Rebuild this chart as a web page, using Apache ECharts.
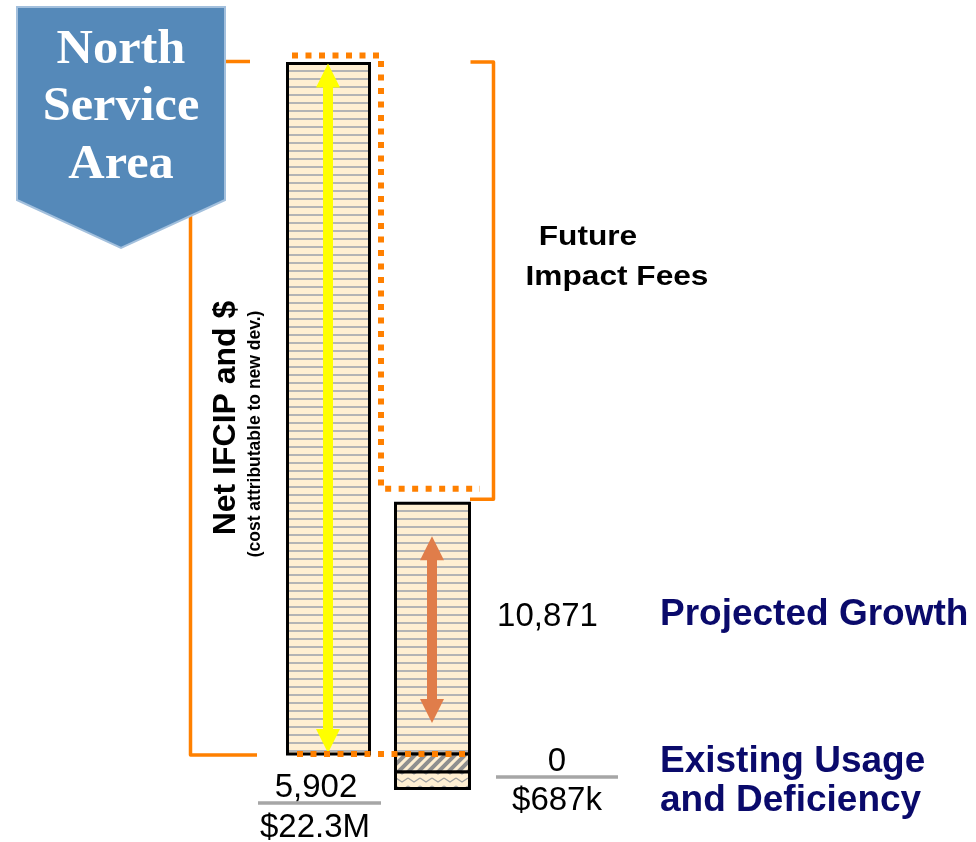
<!DOCTYPE html>
<html>
<head>
<meta charset="utf-8">
<script src="https://cdn.jsdelivr.net/npm/echarts@6/dist/echarts.min.js"></script>
<style>
html, body { margin: 0; padding: 0; background: #fff; }
#main { width: 976px; height: 842px; }
</style>
</head>
<body>
<div id="main"></div>
<script>
var chartDom = document.getElementById('main');
var myChart = echarts.init(chartDom);

var categories = ['Net IFCIP', 'Projected Growth'];
// bar heights in relative units (Net IFCIP bar = 100)
var growthHeights = [100, 36.3];
var existingHeights = [0, 2.6];
var deficiencyHeights = [0, 2.4];
var countLabels = ['5,902', '0'];
var dollarLabels = ['$22.3M', '$687k'];
var growthCount = '10,871';

var barWidths = [82, 74];
var arrowColors = ['#FFFF00', '#E07D4A'];
var arrowInsets = [[0, 1], [33, 31]];
var orange = '#FF8000';
var navy = '#0A0A6B';
var sans = '"Liberation Sans", Arial, sans-serif';

function makePattern(w, h, draw) {
    var c = document.createElement('canvas');
    c.width = w;
    c.height = h;
    var ctx = c.getContext('2d');
    ctx.fillStyle = '#FFEFD2';
    ctx.fillRect(0, 0, w, h);
    draw(ctx);
    return { image: c, repeat: 'repeat' };
}
var patterns = [
    makePattern(8, 8, function (ctx) {
        ctx.fillStyle = '#B4B4B4';
        ctx.fillRect(0, 6, 8, 2);
    }),
    makePattern(10, 10, function (ctx) {
        ctx.strokeStyle = '#8F8F8F';
        ctx.lineWidth = 4;
        ctx.beginPath();
        ctx.moveTo(-5, 5); ctx.lineTo(5, -5);
        ctx.moveTo(0, 10); ctx.lineTo(10, 0);
        ctx.moveTo(5, 15); ctx.lineTo(15, 5);
        ctx.stroke();
    }),
    makePattern(12, 8, function (ctx) {
        ctx.strokeStyle = '#A0A0A0';
        ctx.lineWidth = 1.2;
        ctx.beginPath();
        ctx.moveTo(0, 2); ctx.lineTo(6, 6); ctx.lineTo(12, 2);
        ctx.stroke();
    })
];

var segments = [];
categories.forEach(function (c, i) {
    segments.push([i, 0, growthHeights[i], 0]);
    if (existingHeights[i] > 0) segments.push([i, 0, -existingHeights[i], 1]);
    if (deficiencyHeights[i] > 0) {
        segments.push([i, -existingHeights[i], -existingHeights[i] - deficiencyHeights[i], 2]);
    }
});
var arrows = categories.map(function (c, i) { return [i, growthHeights[i], 0]; });

function renderSegment(params, api) {
    var cat = api.value(0);
    var a = api.coord([cat, api.value(1)]);
    var b = api.coord([cat, api.value(2)]);
    var w = barWidths[cat];
    return {
        type: 'rect',
        shape: { x: a[0] - w / 2, y: Math.min(a[1], b[1]), width: w, height: Math.abs(b[1] - a[1]) },
        style: { fill: patterns[api.value(3)], stroke: '#000', lineWidth: 3 }
    };
}

function renderArrow(params, api) {
    var cat = api.value(0);
    var top = api.coord([cat, api.value(1)]);
    var bot = api.coord([cat, api.value(2)]);
    var cx = top[0] - 0.5;
    var y0 = top[1] + arrowInsets[cat][0];
    var y1 = bot[1] - arrowInsets[cat][1];
    var sw = 5, hw = 12, hh = 24;
    return {
        type: 'polygon',
        shape: {
            points: [
                [cx, y0], [cx + hw, y0 + hh], [cx + sw, y0 + hh], [cx + sw, y1 - hh], [cx + hw, y1 - hh],
                [cx, y1], [cx - hw, y1 - hh], [cx - sw, y1 - hh], [cx - sw, y0 + hh], [cx - hw, y0 + hh]
            ]
        },
        style: { fill: arrowColors[cat] }
    };
}

// brackets (solid) and the dotted "future fees" outline, placed from the bar values
function guideShapes(api) {
    var t1 = api.coord([0, growthHeights[0]]);
    var t2 = api.coord([1, growthHeights[1]]);
    var base = api.coord([0, 0]);
    var dotted = { stroke: orange, lineWidth: 6, lineDash: [6, 7.5], fill: null };
    var solid = { stroke: orange, lineWidth: 3.5, lineJoin: 'round', fill: null };
    return {
        solid: [
            { type: 'polyline', shape: { points: [
                [t1[0] - 78.5, t1[1] - 2], [t1[0] - 138, t1[1] - 2],
                [t1[0] - 138, base[1] + 1], [t1[0] - 71.5, base[1] + 1]
            ] }, style: solid },
            { type: 'polyline', shape: { points: [
                [t2[0] + 38, t1[1] - 1.5], [t2[0] + 61, t1[1] - 1.5],
                [t2[0] + 61, t2[1] - 4], [t2[0] + 37.5, t2[1] - 4]
            ] }, style: solid }
        ],
        dotted: [
            { type: 'polyline', shape: { points: [
                [t1[0] - 36.5, t1[1] - 8], [t1[0] + 52.5, t1[1] - 8],
                [t1[0] + 52.5, t2[1] - 14.5], [t2[0] + 47.5, t2[1] - 14.5]
            ] }, style: dotted },
            { type: 'polyline', shape: { points: [
                [t1[0] - 31.5, base[1]], [t2[0] + 36, base[1]]
            ] }, style: dotted }
        ]
    };
}

function txt(text, x, y, font, color, extra) {
    var el = {
        type: 'text', x: x, y: y, z: 100,
        style: {
            text: text, font: font, fill: color,
            align: 'center', verticalAlign: 'middle',
            textAlign: 'center', textVerticalAlign: 'middle'
        }
    };
    if (extra) Object.keys(extra).forEach(function (k) {
        if (k === 'align') { el.style.align = el.style.textAlign = extra[k]; }
        else el[k] = extra[k];
    });
    return el;
}

var serif = 'bold 48px "Liberation Serif", "Times New Roman", serif';
var option = {
    animation: false,
    grid: { left: 276.5, right: 491.5, top: 63.5, bottom: 18.95 },
    xAxis: { type: 'category', data: categories, show: false },
    yAxis: { type: 'value', min: -10, max: 100, show: false },
    graphic: [
        {
            type: 'polygon', z: 90,
            shape: { points: [[17, 7], [225, 7], [225, 200], [121, 248], [17, 200]] },
            style: { fill: '#5589B9', stroke: '#A3C0DD', lineWidth: 2 }
        },
        txt('North', 121, 51, serif, '#fff', { scaleX: 1.05 }),
        txt('Service', 121, 108, serif, '#fff', { scaleX: 1.05 }),
        txt('Area', 121, 166, serif, '#fff', { scaleX: 1.05 }),
        txt('Net IFCIP and $', 226, 418, 'bold 32px ' + sans, '#000', { rotation: Math.PI / 2 }),
        txt('(cost attributable to new dev.)', 255, 434, 'bold 17.5px ' + sans, '#000', { rotation: Math.PI / 2 }),
        txt('Future', 588, 237, 'bold 28px ' + sans, '#000', { scaleX: 1.13 }),
        txt('Impact Fees', 617, 277, 'bold 28px ' + sans, '#000', { scaleX: 1.13 }),
        txt(growthCount, 547.5, 617, '33px ' + sans, '#000'),
        txt('Projected Growth', 660, 615, 'bold 37px ' + sans, navy, { align: 'left' }),
        txt('Existing Usage', 660, 762, 'bold 37px ' + sans, navy, { align: 'left' }),
        txt('and Deficiency', 660, 801, 'bold 37px ' + sans, navy, { align: 'left' }),
        txt(countLabels[0], 316, 788, '33px ' + sans, '#000'),
        txt(dollarLabels[0], 315, 828, '33px ' + sans, '#000'),
        txt(countLabels[1], 557, 762, '33px ' + sans, '#000'),
        txt(dollarLabels[1], 557, 801, '33px ' + sans, '#000'),
        { type: 'line', z: 100, shape: { x1: 258, y1: 803, x2: 381, y2: 803 }, style: { stroke: '#A6A6A6', lineWidth: 3.5 } },
        { type: 'line', z: 100, shape: { x1: 496, y1: 777, x2: 618, y2: 777 }, style: { stroke: '#A6A6A6', lineWidth: 3.5 } }
    ],
    series: [
        {
            type: 'custom', name: 'brackets', z: 1, silent: true,
            renderItem: function (params, api) {
                return { type: 'group', children: guideShapes(api).solid };
            },
            data: [[0, 0]]
        },
        {
            type: 'custom', name: 'bars', z: 2,
            renderItem: renderSegment,
            encode: { x: 0, y: [1, 2] },
            data: segments
        },
        {
            type: 'custom', name: 'arrows', z: 3,
            renderItem: renderArrow,
            encode: { x: 0, y: [1, 2] },
            data: arrows
        },
        {
            type: 'custom', name: 'future fees', z: 4, silent: true,
            renderItem: function (params, api) {
                return { type: 'group', children: guideShapes(api).dotted };
            },
            data: [[0, 0]]
        }
    ]
};
option && myChart.setOption(option);
</script>
</body>
</html>
